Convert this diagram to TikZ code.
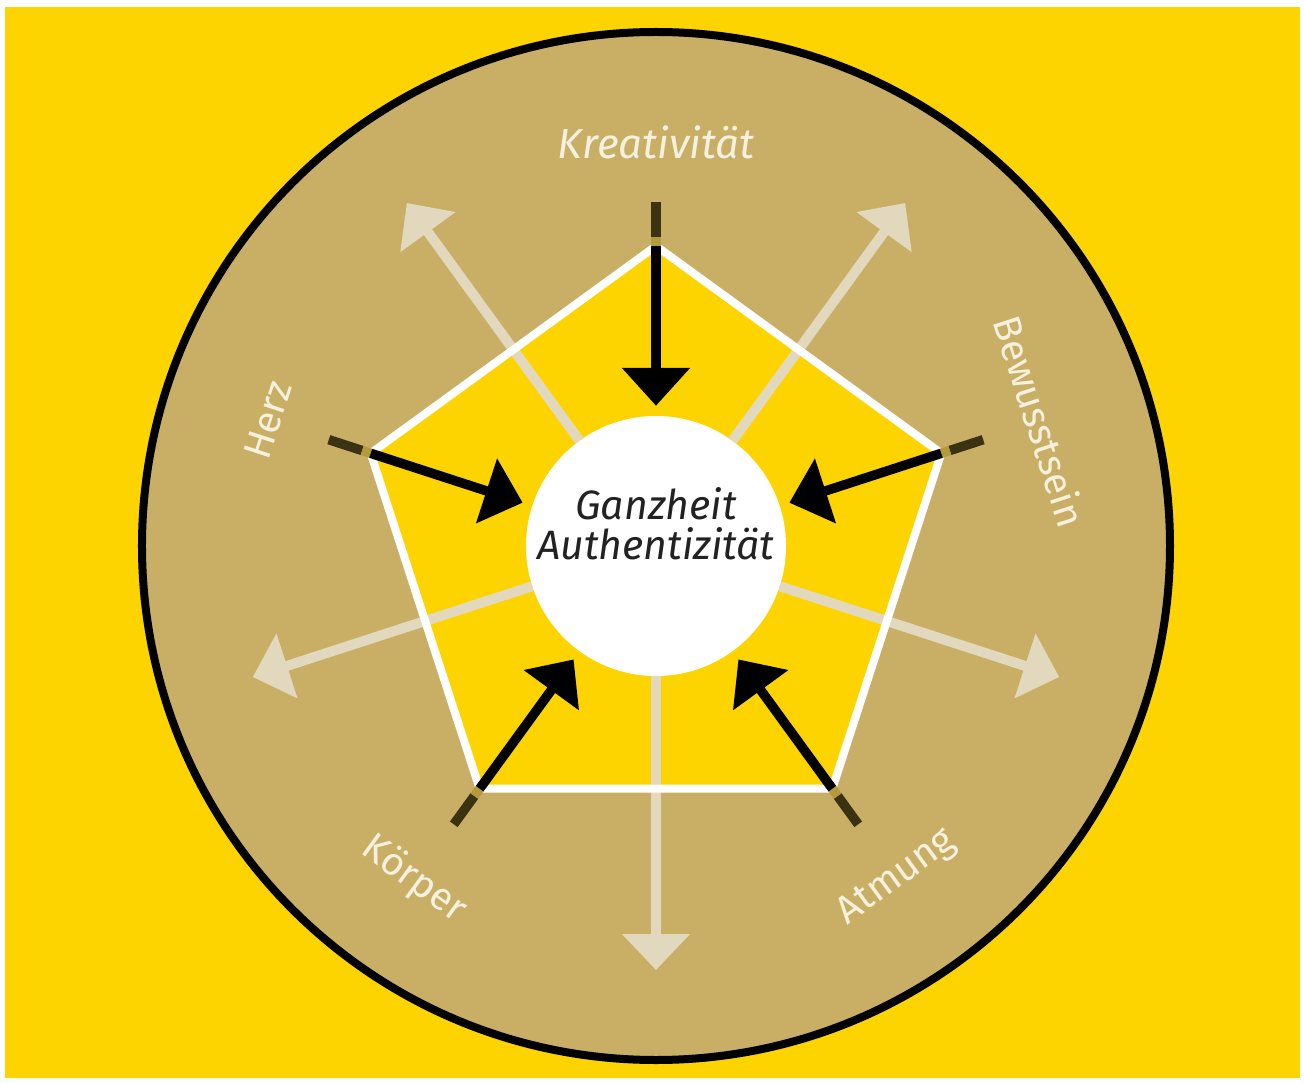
\documentclass[tikz,border=0pt]{standalone}
\usepackage{fontspec}
\setmainfont{Fira Sans}
\usetikzlibrary{arrows.meta}
\definecolor{bgyellow}{HTML}{FDD400}
\definecolor{ringtan}{HTML}{C9AF66}
\definecolor{lightarrow}{HTML}{E2D8BE}
\definecolor{stubdark}{HTML}{3B3212}
\definecolor{stubgold}{HTML}{B59A3C}
\definecolor{labelcream}{HTML}{F6F0DE}
\definecolor{centertext}{HTML}{222222}
\begin{document}
\begin{tikzpicture}[x=1pt,y=1pt,
  outarrow/.style={draw=lightarrow, line width=10pt, -{Triangle[width=66pt,length=36pt]}},
  inarrow/.style={draw=black, line width=9.5pt, -{Triangle[width=66pt,length=38pt]}, shorten >=10pt},
  stubline/.style={draw=stubdark, line width=9.5pt},
  stubjoint/.style={draw=stubgold, line width=9.5pt},
  ringlabel/.style={text=labelcream, font=\fontsize{39}{42}\selectfont, inner sep=0pt},
  corecircle/.style={circle, fill=white, minimum size=260pt, inner sep=0pt}
]
% canvas
\useasboundingbox (-656,-536) rectangle (648,546);
\fill[white] (-656,-536) rectangle (648,546);
\fill[bgyellow] (-651,-532) rectangle (644,539);
% outer ring
\draw[fill=ringtan, draw=black, line width=8pt] (0,0) circle[radius=514];
% pentagon vertices and helper coordinates
\foreach \i/\a in {1/90,2/162,3/234,4/306,5/18}{
  \coordinate (v\i) at (\a:300);
  \coordinate (g\i) at (\a:309);
  \coordinate (s\i) at (\a:344);
}
\foreach \i/\a in {1/126,2/198,3/270,4/342,5/54}{
  \coordinate (o\i) at (\a:424);
}
% pentagon fill
\fill[bgyellow] (v1) -- (v2) -- (v3) -- (v4) -- (v5) -- cycle;
% central circle
\node[corecircle] (core) at (0,0) {};
% outward light arrows
\foreach \i in {1,...,5}{
  \draw[outarrow] (core) -- (o\i);
}
% pentagon border
\draw[white, line width=8pt, line join=miter] (v1) -- (v2) -- (v3) -- (v4) -- (v5) -- cycle;
% inward black arrows with stubs
\foreach \i in {1,...,5}{
  \draw[stubline] (s\i) -- (g\i);
  \draw[stubjoint] (g\i) -- (v\i);
  \draw[inarrow] (v\i) -- (core);
}
% center text
\node[text=centertext, align=center, inner sep=0pt,
      font=\itshape\fontsize{41}{40}\selectfont] (coretext) at (0,22) {Ganzheit\\Authentizität};
% ring labels
\node[ringlabel, font=\itshape\fontsize{42}{44}\selectfont] (lkrea) at (90:404) {Kreativität};
\node[ringlabel, rotate=-72] (lbew) at (18:404) {Bewusstsein};
\node[ringlabel, rotate=72] (lherz) at (162:408) {Herz};
\node[ringlabel, rotate=-36] (lkoer) at (234:412) {Körper};
\node[ringlabel, rotate=36] (latm) at (306:410) {Atmung};
\end{tikzpicture}
\end{document}
